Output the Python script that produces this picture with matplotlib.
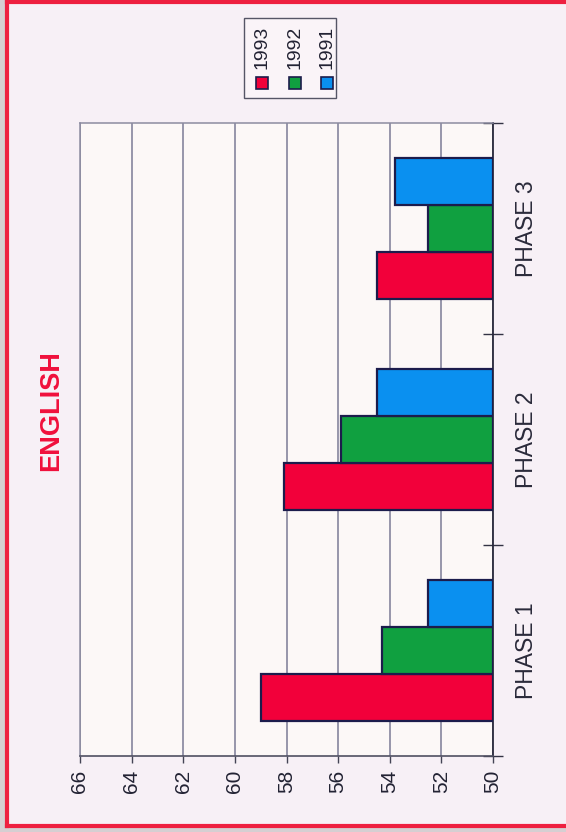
import matplotlib
matplotlib.use('Agg')
import matplotlib.pyplot as plt
from matplotlib.patches import Rectangle
from matplotlib.lines import Line2D

plt.rcParams['font.family'] = ['Liberation Sans', 'DejaVu Sans']

phases = ['PHASE 1', 'PHASE 2', 'PHASE 3']
years = ['1993', '1992', '1991']
scores_1993 = [59.0, 58.1, 54.5]
scores_1992 = [54.3, 55.9, 52.5]
scores_1991 = [52.5, 54.5, 53.8]
value_ticks = list(range(50, 67, 2))

colors = ['#f2003a', '#10a040', '#0a90f0']
base = 50
W, H = 566, 832


def px_x(x):
    return x / W


def px_y(y):
    # pixel rows counted from the top
    return 1 - y / H


fig = plt.figure(figsize=(W / 100, H / 100), dpi=100)
fig.patch.set_facecolor('#f7f0f6')

ax = fig.add_axes([px_x(80), px_y(756), 413 / W, 633 / H])
ax.set_facecolor('#fcf8f7')

bh = 0.222
offsets = [-bh, 0, bh]
for series, color, off in zip([scores_1993, scores_1992, scores_1991],
                              colors, offsets):
    pos = [i + off for i in range(len(phases))]
    ax.barh(pos, [v - base for v in series], left=base, height=bh,
            color=color, edgecolor='#1c1c4c', linewidth=1.6, zorder=3)

ax.set_xlim(66, base)
ax.set_ylim(-0.5, len(phases) - 0.5)
ax.set_xticks(value_ticks)
ax.grid(axis='x', color='#7c7c96', linewidth=1.1)
ax.set_axisbelow(True)
ax.tick_params(axis='x', direction='out', length=5, width=1, color='#444455',
               labelrotation=90, labelsize=15, pad=5, labelcolor='#222233')

ax.yaxis.tick_right()
ax.set_yticks(range(len(phases)))
ax.set_yticklabels(phases, rotation=90, va='center', fontsize=16.5,
                   color='#2a2a3a')
ax.tick_params(axis='y', which='major', length=0, pad=16)
ax.set_yticks([i - 0.5 for i in range(len(phases) + 1)], minor=True)
ax.tick_params(axis='y', which='minor', direction='inout', length=14,
               width=1, color='#333344', right=True, left=False)

for side in ['left', 'top']:
    ax.spines[side].set_color('#8c8ca0')
    ax.spines[side].set_linewidth(1.1)
ax.spines['right'].set_color('#2a2a3c')
ax.spines['right'].set_linewidth(1.3)
ax.spines['bottom'].set_color('#505062')
ax.spines['bottom'].set_linewidth(1.2)

fig.text(px_x(51), px_y(411), 'ENGLISH', rotation=90, color='#f0103c',
         fontsize=19.5, fontweight='bold', ha='center', va='center')

# legend, drawn by hand so it can sit sideways
fig.add_artist(Rectangle((px_x(244), px_y(98)), 92 / W, 80 / H,
                         transform=fig.transFigure, facecolor='#faf4f8',
                         edgecolor='#555566', linewidth=1))
legend_cols = [262, 295, 327]
for year, color, cx in zip(years, colors, legend_cols):
    fig.text(px_x(cx), px_y(47), year, rotation=90, fontsize=14,
             color='#222233', ha='center', va='center')
    fig.add_artist(Rectangle((px_x(cx - 6), px_y(89)), 12 / W, 12 / H,
                             transform=fig.transFigure, facecolor=color,
                             edgecolor='#1c1c4c', linewidth=1.2))

# scanned page edge and red frame
fig.add_artist(Rectangle((0, 0), px_x(6), 1, transform=fig.transFigure,
                         facecolor='#d6cfd2', edgecolor='none'))
fig.add_artist(Rectangle((0, 0), 1, 5 / H, transform=fig.transFigure,
                         facecolor='#d6cfd2', edgecolor='none'))
frame = dict(transform=fig.transFigure, color='#ee2040', linewidth=3)
fig.add_artist(Line2D([px_x(7), px_x(7)], [px_y(826), px_y(2)], **frame))
fig.add_artist(Line2D([px_x(7), 1], [px_y(2), px_y(2)], **frame))
fig.add_artist(Line2D([px_x(7), 1], [px_y(826), px_y(826)], **frame))

fig.savefig('out.png', dpi=100, facecolor=fig.get_facecolor())
